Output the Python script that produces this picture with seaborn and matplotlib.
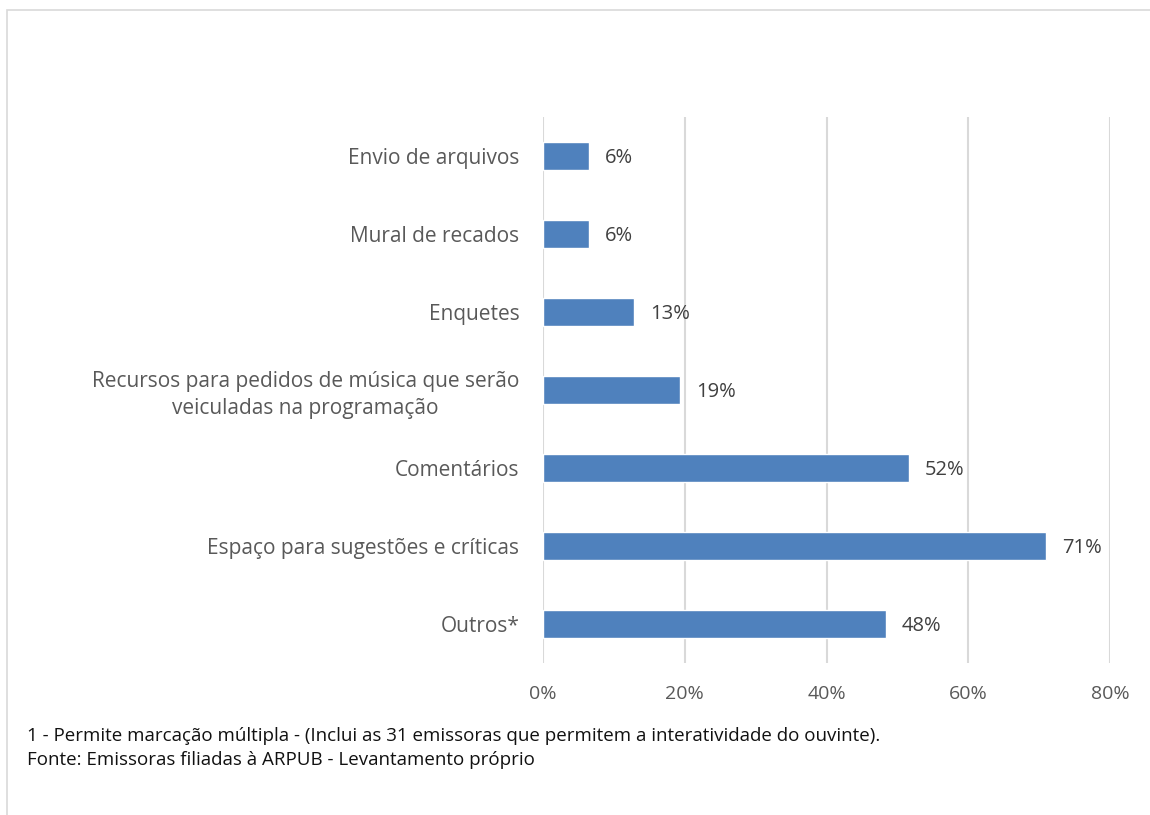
import matplotlib
matplotlib.use("Agg")
import matplotlib.pyplot as plt
import seaborn as sns
import pandas as pd
from matplotlib.ticker import FuncFormatter
from matplotlib.patches import Rectangle

# Interaction features offered by the 31 stations (share of stations, %)
categories = [
    "Envio de arquivos",
    "Mural de recados",
    "Enquetes",
    "Recursos para pedidos de música que serão\nveiculadas na programação",
    "Comentários",
    "Espaço para sugestões e críticas",
    "Outros*",
]
shares = [6.45, 6.45, 12.9, 19.35, 51.6, 71.0, 48.4]
x_ticks = [0, 20, 40, 60, 80]
footnotes = [
    "1 - Permite marcação múltipla - (Inclui as 31 emissoras que permitem a interatividade do ouvinte).",
    "Fonte: Emissoras filiadas à ARPUB - Levantamento próprio",
]

df = pd.DataFrame({"categoria": categories, "percentual": shares})

sns.set_theme(style="white")
plt.rcParams["font.family"] = ["Open Sans", "DejaVu Sans"]

fig = plt.figure(figsize=(11.5, 8.15), dpi=100)
ax = fig.add_axes([0.4722, 0.1865, 0.4930, 0.6700])

bar_color = "#4F81BD"
sns.barplot(data=df, x="percentual", y="categoria", orient="h",
            color=bar_color, width=0.37, saturation=1, ax=ax, zorder=3)

ax.set_xlim(0, 80)
ax.set_ylim(len(categories) - 0.5, -0.5)
ax.set_xticks(x_ticks)
ax.xaxis.set_major_formatter(FuncFormatter(lambda v, p: f"{v:.0f}%"))
ax.grid(axis="x", color="#d9d9d9", linewidth=1.5, zorder=0)
ax.grid(axis="y", visible=False)
for s in ax.spines.values():
    s.set_visible(False)

ax.set_xlabel("")
ax.set_ylabel("")
ax.tick_params(axis="y", length=0, pad=17, labelsize=15, labelcolor="#595959")
ax.tick_params(axis="x", length=0, pad=16, labelsize=14, labelcolor="#595959")
for lbl in ax.get_yticklabels():
    lbl.set_horizontalalignment("right")
    lbl.set_multialignment("center")
    lbl.set_linespacing(1.35)

for i, v in enumerate(shares):
    ax.text(v + 2.25, i + 0.02, f"{v:.0f}%", va="center", ha="left",
            fontsize=14.5, color="#404040")

fig.text(27 / 1150, 1 - 736 / 815, footnotes[0], fontsize=13.5, color="#111111", va="center")
fig.text(27 / 1150, 1 - 760 / 815, footnotes[1], fontsize=13.5, color="#111111", va="center")

# light frame around the chart area
fig.add_artist(Rectangle((7 / 1150, -0.01), 1.1, 1 - 10 / 815 + 0.01,
                         transform=fig.transFigure, fill=False,
                         edgecolor="#d9d9d9", linewidth=1.2))

fig.savefig("out.png", dpi=100, facecolor="white")
